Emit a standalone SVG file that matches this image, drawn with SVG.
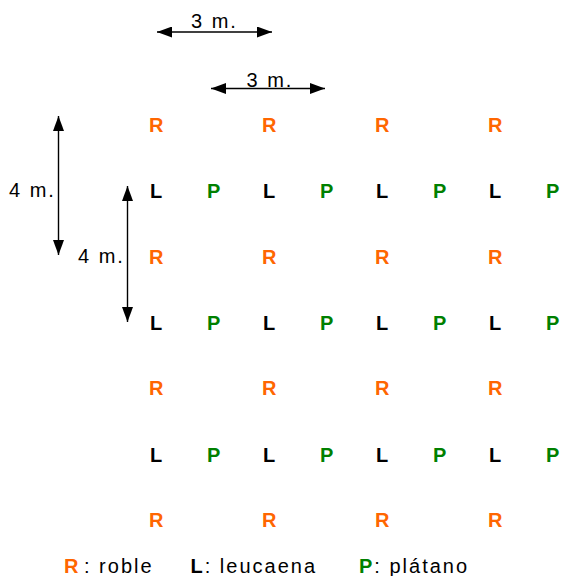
<svg xmlns="http://www.w3.org/2000/svg" width="563" height="576" viewBox="0 0 563 576">
  <style>
    .g { font-family: "Liberation Sans", Arial, sans-serif; font-size: 20px; font-weight: bold; }
    .r { fill: #ff6600; }
    .l { fill: #000000; }
    .p { fill: #008000; }
    .dim { font-family: "Liberation Sans", Arial, sans-serif; font-size: 20px; letter-spacing: 2px; fill: #000; }
    .leg { font-family: "Liberation Sans", Arial, sans-serif; font-size: 20px; letter-spacing: 2px; fill: #000; }
    .b { font-weight: bold; }
    .arrow { stroke: #000; stroke-width: 1.4; fill: none; marker-start: url(#head); marker-end: url(#head); }
  </style>
  <defs>
    <marker id="head" markerUnits="userSpaceOnUse" markerWidth="15" markerHeight="11" refX="15" refY="5.5" orient="auto-start-reverse">
      <path d="M0,0 L15,5.5 L0,11 Z" fill="#000"/>
    </marker>
  </defs>
  <rect width="563" height="576" fill="#fff"/>

  <!-- spacing dimensions -->
  <g id="connectors">
    <line class="arrow" x1="157" y1="32" x2="272" y2="32"/>
    <line class="arrow" x1="211" y1="88.5" x2="325" y2="88.5"/>
    <line class="arrow" x1="58.5" y1="116" x2="58.5" y2="255"/>
    <line class="arrow" x1="127.5" y1="186" x2="127.5" y2="322"/>
  </g>
  <g id="dimension-labels">
    <text class="dim" x="191" y="28">3 m.</text>
    <text class="dim" x="246.5" y="87">3 m.</text>
    <text class="dim" x="9" y="197">4 m.</text>
    <text class="dim" x="78" y="263">4 m.</text>
  </g>

  <!-- planting grid: R rows alternate with L/P rows -->
  <g id="row1" class="g r">
    <text x="149" y="132">R</text><text x="262" y="132">R</text><text x="375" y="132">R</text><text x="488" y="132">R</text>
  </g>
  <g id="row2" class="g">
    <text class="l" x="150" y="198">L</text><text class="p" x="207" y="198">P</text>
    <text class="l" x="263" y="198">L</text><text class="p" x="320" y="198">P</text>
    <text class="l" x="376" y="198">L</text><text class="p" x="433" y="198">P</text>
    <text class="l" x="489" y="198">L</text><text class="p" x="546" y="198">P</text>
  </g>
  <g id="row3" class="g r">
    <text x="149" y="264">R</text><text x="262" y="264">R</text><text x="375" y="264">R</text><text x="488" y="264">R</text>
  </g>
  <g id="row4" class="g">
    <text class="l" x="150" y="330">L</text><text class="p" x="207" y="330">P</text>
    <text class="l" x="263" y="330">L</text><text class="p" x="320" y="330">P</text>
    <text class="l" x="376" y="330">L</text><text class="p" x="433" y="330">P</text>
    <text class="l" x="489" y="330">L</text><text class="p" x="546" y="330">P</text>
  </g>
  <g id="row5" class="g r">
    <text x="149" y="395">R</text><text x="262" y="395">R</text><text x="375" y="395">R</text><text x="488" y="395">R</text>
  </g>
  <g id="row6" class="g">
    <text class="l" x="150" y="462">L</text><text class="p" x="207" y="462">P</text>
    <text class="l" x="263" y="462">L</text><text class="p" x="320" y="462">P</text>
    <text class="l" x="376" y="462">L</text><text class="p" x="433" y="462">P</text>
    <text class="l" x="489" y="462">L</text><text class="p" x="546" y="462">P</text>
  </g>
  <g id="row7" class="g r">
    <text x="149" y="527">R</text><text x="262" y="527">R</text><text x="375" y="527">R</text><text x="488" y="527">R</text>
  </g>

  <!-- legend -->
  <g id="legend" class="leg">
    <text class="b r" x="64" y="573">R</text>
    <text x="84" y="573">: roble</text>
    <text x="190.5" y="573"><tspan class="b">L</tspan>: leucaena</text>
    <text x="359" y="573"><tspan class="b p">P</tspan>: plátano</text>
  </g>
</svg>
